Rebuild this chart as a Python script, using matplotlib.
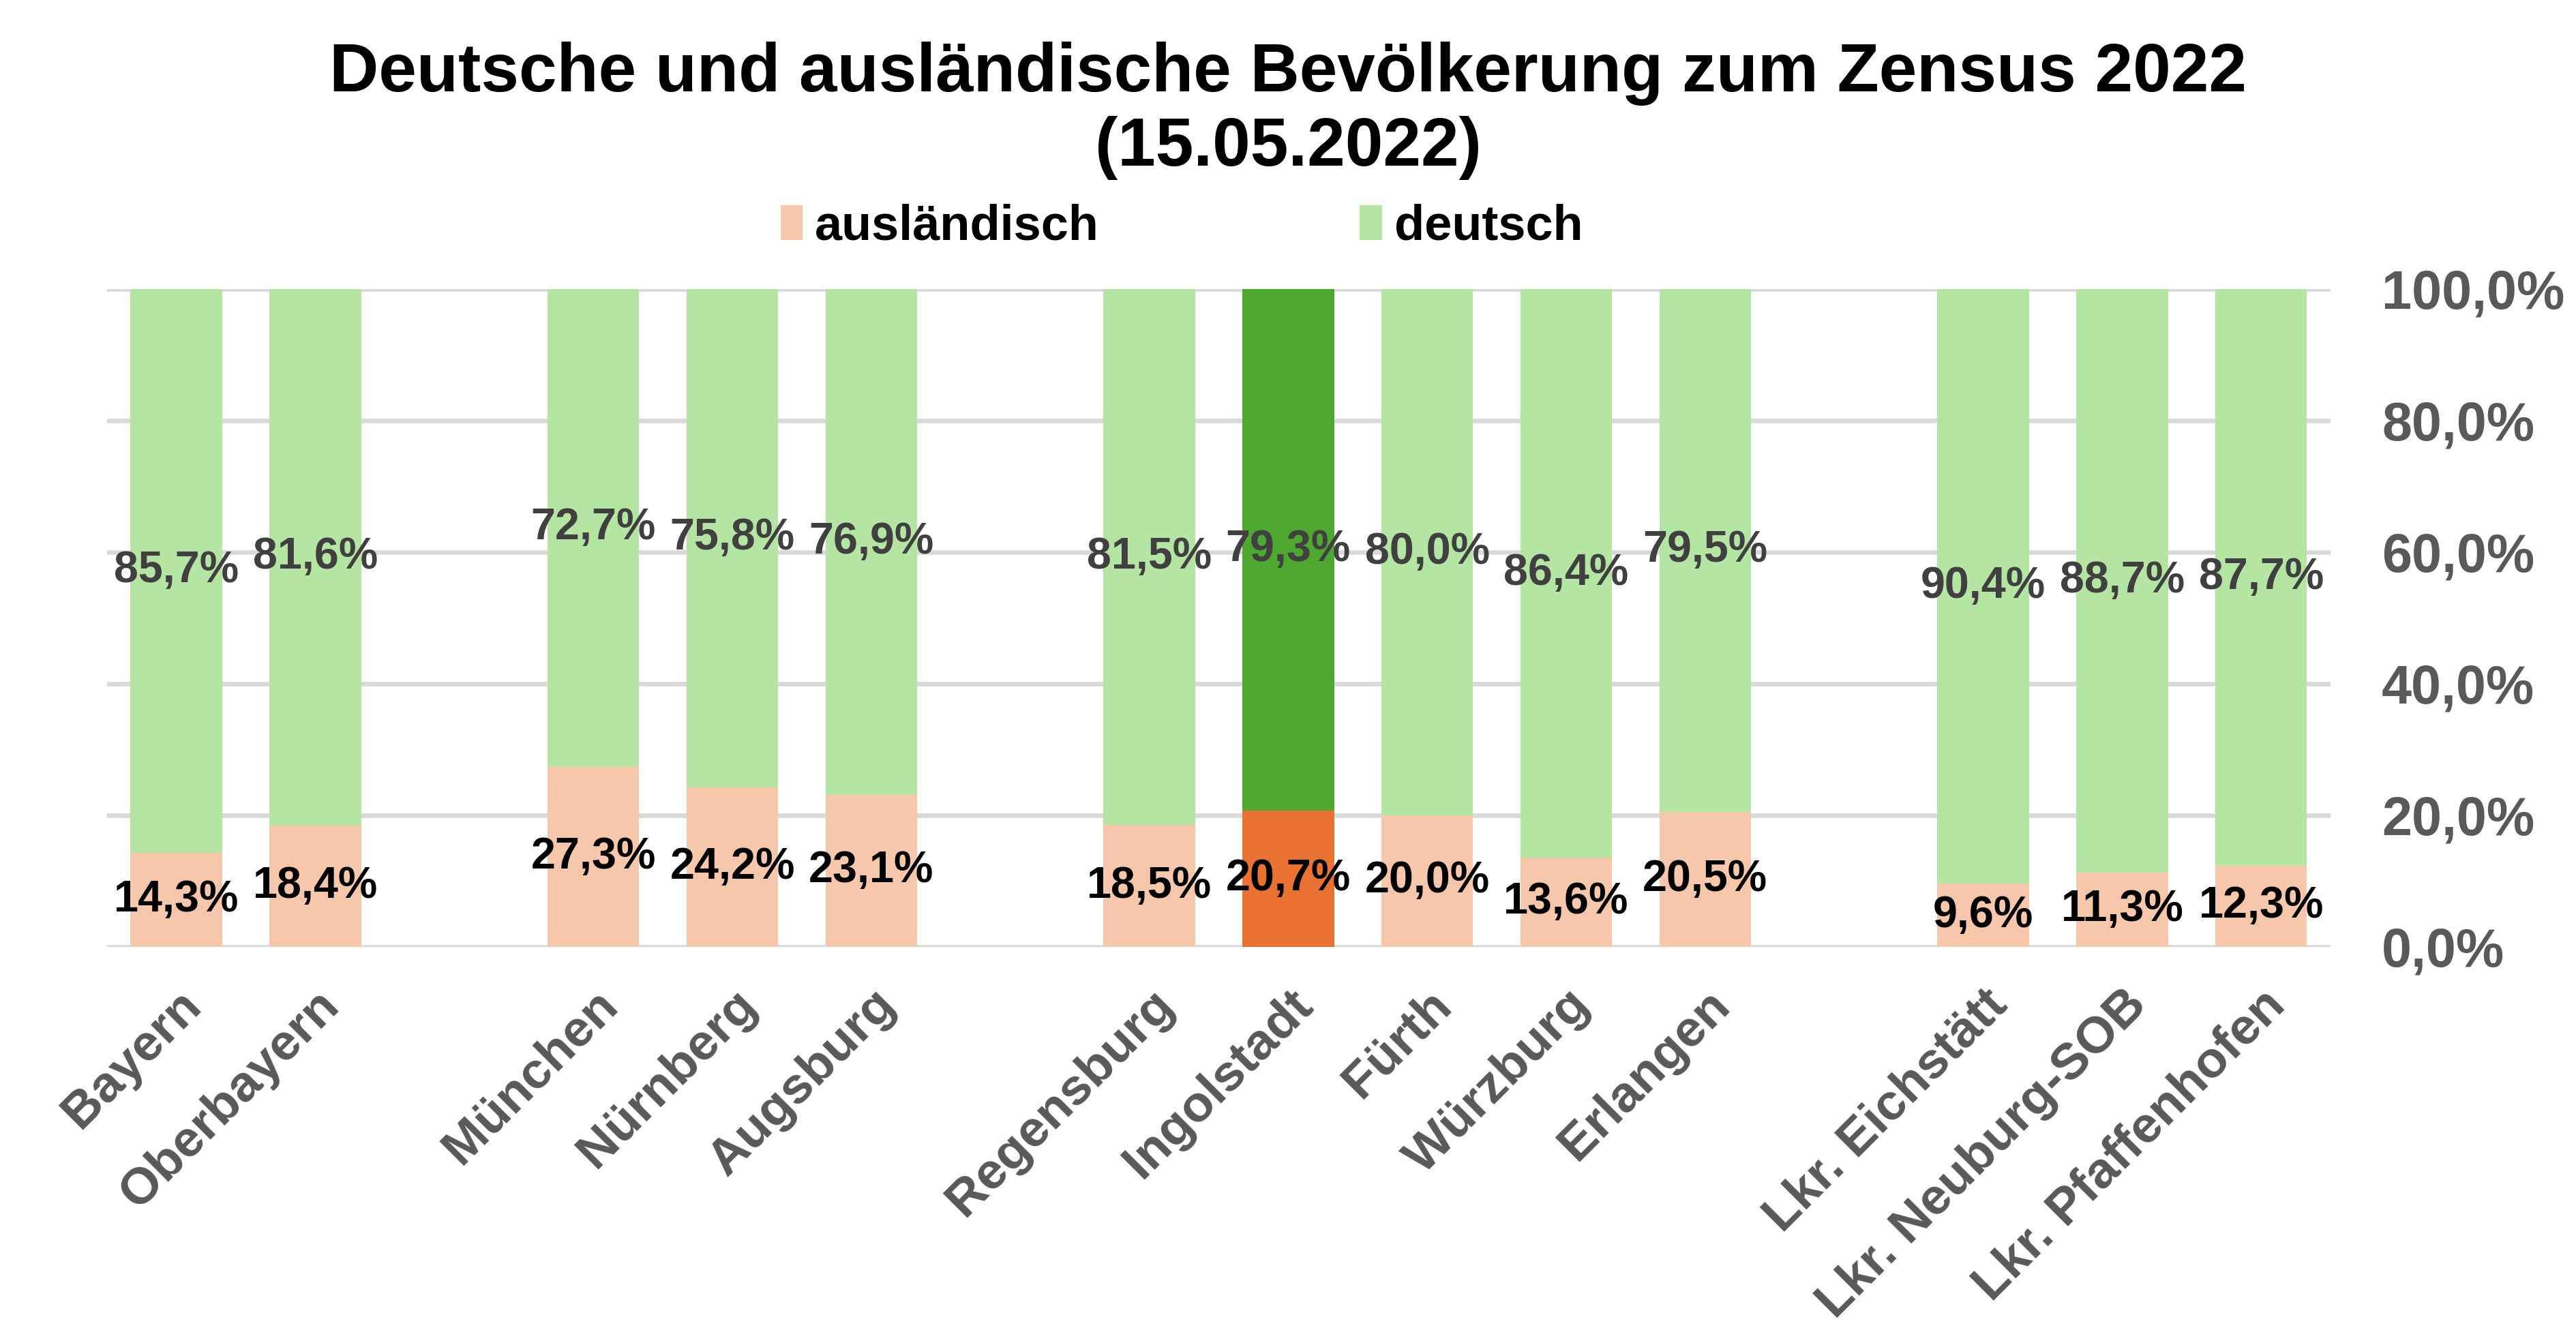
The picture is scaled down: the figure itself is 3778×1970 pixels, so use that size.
import numpy as np
import matplotlib.pyplot as plt

plt.rcParams['font.family'] = ['Liberation Sans', 'DejaVu Sans']
plt.rcParams['font.weight'] = 'bold'

# Data (Zensus 2022, share in %)
groups = [
    ["Bayern", "Oberbayern"],
    ["München", "Nürnberg", "Augsburg"],
    ["Regensburg", "Ingolstadt", "Fürth", "Würzburg", "Erlangen"],
    ["Lkr. Eichstätt", "Lkr. Neuburg-SOB", "Lkr. Pfaffenhofen"],
]
auslaendisch = [14.3, 18.4, 27.3, 24.2, 23.1, 18.5, 20.7, 20.0, 13.6, 20.5, 9.6, 11.3, 12.3]
deutsch = [85.7, 81.6, 72.7, 75.8, 76.9, 81.5, 79.3, 80.0, 86.4, 79.5, 90.4, 88.7, 87.7]
highlight = "Ingolstadt"
yticks = [0, 20, 40, 60, 80, 100]

col_aus, col_de = "#F7C7AC", "#B4E5A2"
col_aus_hi, col_de_hi = "#E97132", "#4EA72E"

# slot positions with one empty slot between groups
labels, xpos = [], []
slot = 0
for g in groups:
    for name in g:
        labels.append(name)
        xpos.append(slot)
        slot += 1
    slot += 1
xpos = np.array(xpos)
aus = np.array(auslaendisch)
de = np.array(deutsch)

fig = plt.figure(figsize=(3779 / 300, 1970 / 300), dpi=300)
ax = fig.add_axes([0.0415, 0.295, 0.863, 0.49])

c_aus = [col_aus_hi if n == highlight else col_aus for n in labels]
c_de = [col_de_hi if n == highlight else col_de for n in labels]
w = 0.66
ax.bar(xpos, aus, width=w, color=c_aus, zorder=2, label="ausländisch")
ax.bar(xpos, de, width=w, bottom=aus, color=c_de, zorder=2, label="deutsch")

# data labels centred in each segment
for x, a, d in zip(xpos, aus, de):
    ax.text(x, a / 2, f"{a:.1f}%".replace(".", ","), ha="center", va="center",
            fontsize=15.5, fontweight="bold", color="black", zorder=3)
    ax.text(x, a + d / 2, f"{d:.1f}%".replace(".", ","), ha="center", va="center",
            fontsize=15.5, fontweight="bold", color="#404040", zorder=3)

ax.set_xlim(-0.5, slot - 1.5)
ax.set_ylim(0, 100)
for y in yticks:
    ax.axhline(y, color="#D9D9D9", lw=1.6, zorder=1)
for s in ax.spines.values():
    s.set_visible(False)

ax.yaxis.tick_right()
ax.set_yticks(yticks)
ax.set_yticklabels([f"{y:.1f}%".replace(".", ",") for y in yticks])
ax.tick_params(axis="y", length=0, pad=18, labelsize=19, labelcolor="#595959")

ax.set_xticks(xpos)
ax.set_xticklabels(labels, rotation=45, ha="right", rotation_mode="anchor")
ax.tick_params(axis="x", length=0, pad=12, labelsize=18, labelcolor="#595959")
for t in ax.get_xticklabels():
    t.set_fontweight("bold")
for t in ax.get_yticklabels():
    t.set_fontweight("bold")

fig.text(0.5, 0.945, "Deutsche und ausländische Bevölkerung zum Zensus 2022",
         ha="center", va="center", fontsize=24, fontweight="bold")
fig.text(0.5, 0.89, "(15.05.2022)", ha="center", va="center", fontsize=24, fontweight="bold")

fig.legend(loc="center", bbox_to_anchor=(0.4586, 0.831), ncol=2, frameon=False,
           handlelength=0.45, handleheight=0.7, handletextpad=0.25,
           columnspacing=5.3, prop={"weight": "bold", "size": 17.3})

fig.savefig("out.png", dpi=300)
